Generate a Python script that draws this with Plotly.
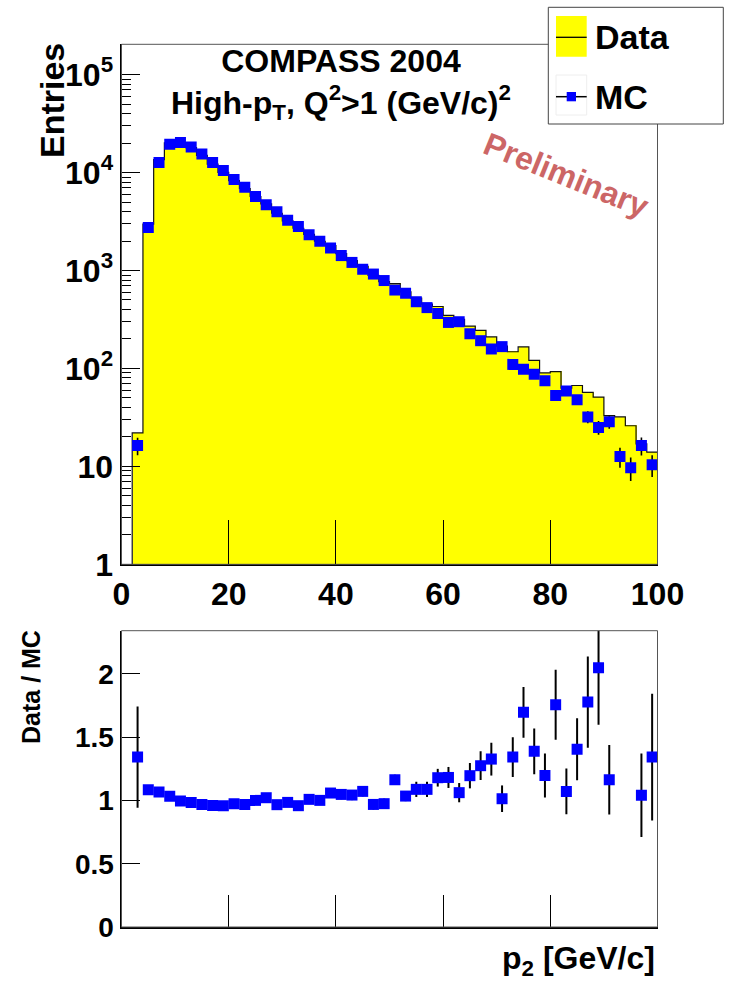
import plotly.graph_objects as go

# ---------------- data ----------------
bin_centers = [1, 3, 5, 7, 9, 11, 13, 15, 17, 19, 21, 23, 25, 27, 29, 31, 33, 35, 37, 39,
               41, 43, 45, 47, 49, 51, 53, 55, 57, 59, 61, 63, 65, 67, 69, 71, 73, 75, 77, 79,
               81, 83, 85, 87, 89, 91, 93, 95, 97, 99]
bin_width = 2

data_counts = [None, 22, 2980, 13540, 20120, 20200, 18010, 15000, 12190, 10060,
               8280, 6870, 5700, 4800, 3845, 3218, 2700, 2340, 1990, 1800,
               1487, 1261, 1103, 890, 770, 735, 606, 522, 454, 429,
               348, 318, 270, 245, 210, 169, 148, 166, 121, 90,
               93, 63, 67, 57, 51, 33, 32, 26, 17, 14]

mc_counts = [None, 16.3, 2750, 12700, 19500, 20300, 18300, 15500, 12700, 10500,
             8500, 7100, 5700, 4700, 3980, 3270, 2820, 2320, 1990, 1700,
             1420, 1210, 1030, 920, 790, 632, 586, 480, 418, 364,
             295, 300, 226, 192, 158, 167, 110, 98, 87, 75,
             53, 59, 48, 32, 25, 28.5, 12.6, 9.7, 16.3, 10.4]

mc_errors = [None, 3.3, 42, 90, 112, 114, 108, 100, 90, 82,
             74, 67, 60, 55, 50, 46, 42, 39, 36, 33,
             30, 28, 26, 24, 22, 20, 19, 17.5, 16.4, 15.3,
             13.7, 13.9, 12, 11, 10, 10.3, 8.4, 7.9, 7.5, 6.9,
             5.8, 6.1, 5.5, 4.5, 4.0, 4.3, 2.9, 2.6, 3.4, 2.6]

ratio_vals = [None, 1.342, 1.084, 1.066, 1.032, 0.995, 0.984, 0.968, 0.960, 0.958,
              0.974, 0.968, 1.000, 1.021, 0.966, 0.984, 0.958, 1.008, 1.000, 1.058,
              1.047, 1.042, 1.071, 0.968, 0.974, 1.163, 1.034, 1.087, 1.087, 1.179,
              1.181, 1.061, 1.195, 1.274, 1.326, 1.013, 1.342, 1.695, 1.387, 1.197,
              1.755, 1.071, 1.403, 1.776, 2.047, 1.163, None, None, 1.040, 1.342]

ratio_errs = [None, 0.40, 0.03, 0.015, 0.012, 0.012, 0.012, 0.013, 0.014, 0.015,
              0.017, 0.018, 0.020, 0.022, 0.024, 0.026, 0.028, 0.031, 0.034, 0.036,
              0.038, 0.040, 0.040, 0.040, 0.040, 0.040, 0.040, 0.060, 0.060, 0.070,
              0.083, 0.076, 0.100, 0.113, 0.130, 0.105, 0.157, 0.200, 0.180, 0.174,
              0.276, 0.180, 0.245, 0.360, 0.450, 0.275, None, None, 0.330, 0.500]

x_ticks_top = [0, 20, 40, 60, 80, 100]
x_ticks_bottom = [20, 40, 60, 80]
y_ticks_top = [1, 10, 100, 1000, 10000, 100000]
y_ticklabels_top = ["1", "10", "10<sup>2</sup>", "10<sup>3</sup>", "10<sup>4</sup>", "10<sup>5</sup>"]
y_ticks_bottom = [0, 0.5, 1, 1.5, 2]
y_ticklabels_bottom = ["0", "0.5", "1", "1.5", "2"]

# ---------------- geometry helpers ----------------
W, H = 729, 981
def px(x):
    return x / W
def py(y):
    return 1 - y / H

FONT = "Liberation Sans, Arial, Helvetica, sans-serif"
xdom = [px(121.5), px(657.5)]
ydom_top = [py(564.3), py(44.3)]
ydom_bot = [py(927.0), py(630.7)]

fig = go.Figure()

# Data histogram: yellow fill
fig.add_trace(go.Bar(
    x=bin_centers, y=data_counts, width=bin_width,
    marker=dict(color="#FFFF00", line=dict(width=0)),
    xaxis="x", yaxis="y", showlegend=False, hoverinfo="x+y"))

# Data histogram: black step outline
edges_x = [bin_centers[1] - bin_width / 2] + [c + bin_width / 2 for c in bin_centers[1:]]
edges_y = [1] + data_counts[1:]
fig.add_trace(go.Scatter(
    x=edges_x, y=edges_y, mode="lines", line=dict(color="#111111", width=1.2, shape="vh"),
    xaxis="x", yaxis="y", showlegend=False, hoverinfo="skip"))

# MC points
fig.add_trace(go.Scatter(
    x=bin_centers, y=mc_counts, mode="markers",
    marker=dict(symbol="square", size=11, color="#0000FF", line=dict(width=0)),
    error_y=dict(type="data", array=mc_errors, color="black", thickness=1.6, width=0),
    xaxis="x", yaxis="y", showlegend=False))

# Ratio points
fig.add_trace(go.Scatter(
    x=bin_centers, y=ratio_vals, mode="markers",
    marker=dict(symbol="square", size=11, color="#0000FF", line=dict(width=0)),
    error_y=dict(type="data", array=ratio_errs, color="black", thickness=2, width=0),
    xaxis="x2", yaxis="y2", showlegend=False))

minor_top = []
for dec in [1, 10, 100, 1000, 10000, 100000]:
    for m in range(2, 10):
        minor_top.append(m * dec)

axis_common = dict(showgrid=False, zeroline=False, showline=True, linecolor="black",
                   linewidth=2, ticks="inside", tickcolor="black", tickwidth=1,
                   automargin=False)

fig.update_layout(
    width=W, height=H,
    margin=dict(l=0, r=0, t=0, b=0, pad=0, autoexpand=False),
    paper_bgcolor="white", plot_bgcolor="white",
    bargap=0, barmode="overlay",
    showlegend=False,
    font=dict(family=FONT, color="black"),
    xaxis=dict(domain=xdom, range=[0, 100], anchor="y", tickmode="array",
               tickvals=x_ticks_top, ticklen=44,
               tickfont=dict(family=FONT, size=32, weight="bold"), **axis_common),
    yaxis=dict(domain=ydom_top, type="log", range=[0, 5.31], anchor="x", tickmode="array",
               tickvals=y_ticks_top, ticktext=y_ticklabels_top, ticklen=18,
               minor=dict(tickmode="array", tickvals=minor_top, ticks="inside", ticklen=9,
                          tickcolor="black", tickwidth=1, showgrid=False),
               tickfont=dict(family=FONT, size=32, weight="bold"), **axis_common),
    xaxis2=dict(domain=xdom, range=[0, 100], anchor="y2", tickmode="array",
                tickvals=x_ticks_bottom, ticklen=32, showticklabels=False, **axis_common),
    yaxis2=dict(domain=ydom_bot, range=[0, 2.34], anchor="x2", tickmode="array",
                tickvals=y_ticks_bottom, ticktext=y_ticklabels_bottom, ticklen=18,
                tickfont=dict(family=FONT, size=28, weight="bold"), **axis_common),
)

shapes = [
    dict(type="rect", xref="x domain", yref="y domain", x0=0, x1=1, y0=0, y1=1,
         line=dict(color="#555555", width=1), layer="above"),
    dict(type="rect", xref="x2 domain", yref="y2 domain", x0=0, x1=1, y0=0, y1=1,
         line=dict(color="#555555", width=1), layer="above"),
    # legend box
    dict(type="rect", xref="paper", yref="paper", x0=px(548.3), x1=px(723.3), y0=py(124), y1=py(7.3),
         line=dict(color="#444444", width=1), fillcolor="white", layer="above"),
    # Data symbol
    dict(type="rect", xref="paper", yref="paper", x0=px(556), x1=px(586.7), y0=py(56.7), y1=py(16),
         line=dict(width=0), fillcolor="#FFFF00", layer="above"),
    dict(type="line", xref="paper", yref="paper", x0=px(556), x1=px(586.7), y0=py(37.3), y1=py(37.3),
         line=dict(color="black", width=1.3), layer="above"),
    # MC symbol
    dict(type="rect", xref="paper", yref="paper", x0=px(556), x1=px(586.7), y0=py(115), y1=py(75),
         line=dict(color="#EEEEEE", width=1), fillcolor="white", layer="above"),
    dict(type="line", xref="paper", yref="paper", x0=px(556), x1=px(586.7), y0=py(96.7), y1=py(96.7),
         line=dict(color="black", width=1.5), layer="above"),
    dict(type="rect", xref="paper", yref="paper", x0=px(566.7), x1=px(576), y0=py(101.3), y1=py(92),
         line=dict(width=0), fillcolor="#0000FF", layer="above"),
]
fig.update_layout(shapes=shapes)

def ann(text, x, y, size, xanchor="center", yanchor="middle", angle=0, color="black"):
    return dict(text=text, x=px(x), y=py(y), xref="paper", yref="paper", showarrow=False,
                xanchor=xanchor, yanchor=yanchor, textangle=angle,
                font=dict(family=FONT, size=size, color=color, weight="bold"))

annotations = [
    ann("COMPASS 2004<br>High-p<sub>T</sub>, Q<sup>2</sup>>1 (GeV/c)<sup>2</sup>", 341, 84, 32),
    ann("Preliminary", 566, 175, 32, angle=22, color="#CC6666"),
    ann("Data", 593, 37, 34, xanchor="left"),
    ann("MC", 593, 97, 34, xanchor="left"),
    ann("Entries", 52, 101, 34, angle=-90),
    ann("Data / MC", 31, 687, 25, angle=-90),
    ann("p<sub>2</sub> [GeV/c]", 657, 960, 32, xanchor="right"),
]
fig.update_layout(annotations=annotations)

fig.write_html("out.html")
